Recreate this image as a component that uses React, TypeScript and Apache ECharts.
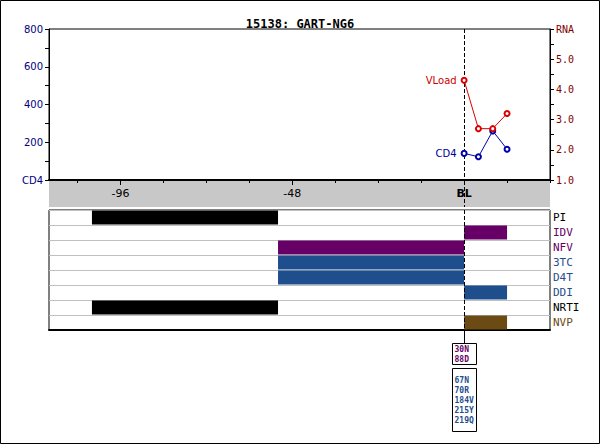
import React, { useEffect, useRef } from "react";
import * as echarts from "echarts";

const chartTitle = "15138: GART-NG6";
const weeks = [0, 4, 8, 12];
const cd4Values = [141, 123, 260, 163];
const vloadValues = [4.3, 2.7, 2.7, 3.2];
const xMin = -116;
const xMax = 24;
const baselineWeek = 0;
const majorTicks = [-96, -48, 0];
const minorTicks = [-108, -96, -84, -72, -60, -48, -36, -24, -12, 0, 12, 24];
const drugRows = ["PI", "IDV", "NFV", "3TC", "D4T", "DDI", "NRTI", "NVP"];
const rowColors = ["#000000", "#660066", "#660066", "#1f4e8c", "#1f4e8c", "#1f4e8c", "#000000", "#6b4a14"];
// [start week, end week, row index]
const drugSpans = [
  [-104, -52, 0],
  [0, 12, 1],
  [-52, 0, 2],
  [-52, 0, 3],
  [-52, 0, 4],
  [0, 12, 5],
  [-104, -52, 6],
  [0, 12, 7],
];
const piMutations = ["30N", "88D"];
const rtMutations = ["67N", "70R", "184V", "215Y", "219Q"];
const piColor = "#660066";
const rtColor = "#1f4e8c";

const MONO = "DejaVu Sans Mono";
const SANS = "DejaVu Sans";

export default function App() {
  const ref = useRef<HTMLDivElement>(null);

  useEffect(() => {
    if (!ref.current) return;
    const chart = echarts.init(ref.current, undefined, { renderer: "svg" });

    const rich: Record<string, any> = {};
    rowColors.forEach((c, i) => {
      rich["c" + i] = { color: c, fontFamily: MONO, fontSize: 11 };
    });

    const dashedSeries = (xi: number, yi: number) => ({
      type: "custom",
      xAxisIndex: xi,
      yAxisIndex: yi,
      data: [[baselineWeek, 0]],
      z: 4,
      renderItem: (params: any, api: any) => {
        const p = api.coord([api.value(0), api.value(1)]);
        const cs = params.coordSys;
        return {
          type: "line",
          shape: { x1: Math.round(p[0]) + 0.5, y1: cs.y, x2: Math.round(p[0]) + 0.5, y2: cs.y + cs.height },
          style: { stroke: "#000", lineWidth: 1, lineDash: [4, 2] },
        };
      },
    });

    chart.setOption({
      animation: false,
      textStyle: { fontFamily: SANS },
      title: {
        text: chartTitle,
        left: "center",
        top: 13,
        textStyle: { fontFamily: MONO, fontWeight: "bold", fontSize: 12, color: "#000" },
      },
      grid: [
        { left: 49, top: 29, width: 501, height: 151, show: true, borderColor: "#000", borderWidth: 1 },
        { left: 49, top: 181, width: 501, height: 26, show: true, backgroundColor: "#c8c8c8", borderWidth: 0 },
        { left: 49, top: 210, width: 501, height: 120, show: true, borderColor: "#000", borderWidth: 1, backgroundColor: "#fff" },
      ],
      xAxis: [
        {
          gridIndex: 0, type: "value", min: xMin, max: xMax, position: "bottom", z: 5,
          axisLine: { show: true, onZero: false, lineStyle: { color: "#000", width: 2 } },
          axisTick: { show: true, customValues: majorTicks, length: 5, lineStyle: { color: "#000" } },
          axisLabel: {
            customValues: majorTicks, margin: 8, color: "#000", fontFamily: SANS, fontSize: 11,
            formatter: (v: number) => (v === 0 ? "{b|BL}" : String(v)),
            rich: { b: { fontWeight: "bold", fontFamily: SANS, fontSize: 11, color: "#000" } },
          },
          splitLine: { show: false },
        },
        {
          gridIndex: 0, type: "value", min: xMin, max: xMax, position: "bottom", z: 5,
          axisLine: { show: false, onZero: false },
          axisTick: { show: true, customValues: minorTicks, length: 3, lineStyle: { color: "#000" } },
          axisLabel: { show: false },
          splitLine: { show: false },
        },
        { gridIndex: 1, type: "value", min: xMin, max: xMax, show: false },
        {
          gridIndex: 2, type: "value", min: xMin, max: xMax, position: "bottom",
          axisLine: { show: true, onZero: false, lineStyle: { color: "#000", width: 2 } },
          axisTick: { show: false }, axisLabel: { show: false }, splitLine: { show: false },
        },
      ],
      yAxis: [
        {
          gridIndex: 0, type: "value", min: 0, max: 800, interval: 200, position: "left",
          axisLine: { show: true, onZero: false, lineStyle: { color: "#000" } },
          axisTick: { show: true, length: 4, lineStyle: { color: "#000" } },
          minorTick: { show: true, splitNumber: 2, length: 4, lineStyle: { color: "#000" } },
          axisLabel: {
            margin: 6, color: "#000080", fontFamily: SANS, fontSize: 10,
            formatter: (v: number) => (v === 0 ? "CD4" : String(v)),
          },
          splitLine: { show: false },
        },
        {
          gridIndex: 0, type: "value", min: 1, max: 6, interval: 1, position: "right",
          axisLine: { show: true, onZero: false, lineStyle: { color: "#000" } },
          axisTick: { show: true, length: 4, lineStyle: { color: "#000" } },
          minorTick: { show: true, splitNumber: 2, length: 4, lineStyle: { color: "#000" } },
          axisLabel: {
            margin: 6, color: "#800000", fontFamily: MONO, fontSize: 10,
            formatter: (v: number) => (v === 6 ? "RNA" : v.toFixed(1)),
          },
          splitLine: { show: false },
        },
        { gridIndex: 1, type: "value", min: 0, max: 1, show: false },
        {
          gridIndex: 2, type: "value", min: 0, max: drugRows.length, interval: 1, inverse: true, position: "right",
          axisLine: { show: false, onZero: false }, axisTick: { show: false },
          axisLabel: {
            customValues: drugRows.map((_, i) => i + 0.5),
            margin: 3, fontFamily: MONO, fontSize: 11,
            formatter: (v: number) => {
              const i = Math.floor(v);
              return `{c${i}|${drugRows[i] ?? ""}}`;
            },
            rich,
          },
          splitLine: { show: true, lineStyle: { color: "#c0c0c0", width: 1 } },
        },
      ],
      series: [
        {
          type: "line", name: "CD4", xAxisIndex: 0, yAxisIndex: 0,
          data: weeks.map((w, i) =>
            i === 0
              ? {
                  value: [w, cd4Values[i]],
                  label: { show: true, position: "left", distance: 4, formatter: "CD4", color: "#000099", fontFamily: SANS, fontSize: 10 },
                }
              : [w, cd4Values[i]]
          ),
          color: "#0000aa", symbol: "emptyCircle", symbolSize: 5, z: 5,
          lineStyle: { width: 1, color: "#0000aa" }, itemStyle: { color: "#0000aa", borderWidth: 1 },
        },
        {
          type: "line", name: "VLoad", xAxisIndex: 0, yAxisIndex: 1,
          data: weeks.map((w, i) =>
            i === 0
              ? {
                  value: [w, vloadValues[i]],
                  label: { show: true, position: "left", distance: 4, formatter: "VLoad", color: "#cc0000", fontFamily: SANS, fontSize: 10 },
                }
              : [w, vloadValues[i]]
          ),
          color: "#dd0000", symbol: "emptyCircle", symbolSize: 5, z: 5,
          lineStyle: { width: 1, color: "#dd0000" }, itemStyle: { color: "#dd0000", borderWidth: 1 },
        },
        {
          type: "custom", xAxisIndex: 3, yAxisIndex: 3,
          data: drugSpans,
          z: 3,
          renderItem: (params: any, api: any) => {
            const row = api.value(2);
            const s = api.coord([api.value(0), row]);
            const e = api.coord([api.value(1), row + 1]);
            return {
              type: "rect",
              shape: { x: s[0], y: s[1] + 0.5, width: e[0] - s[0], height: e[1] - s[1] - 1 },
              style: { fill: rowColors[row] },
            };
          },
        },
        dashedSeries(0, 0),
        dashedSeries(2, 2),
        dashedSeries(3, 3),
      ],
    });

    const px = chart.convertToPixel({ xAxisIndex: 3 }, baselineWeek) as number;
    const gridBottom = 330;
    const boxW = 24;
    const lx = Math.round(px) + 0.5;
    const boxX = Math.round(px) - boxW / 2 + 0.5;
    const g: any[] = [
      {
        type: "rect", silent: true,
        shape: { x: 0.5, y: 0.5, width: 599, height: 443 },
        style: { fill: "none", stroke: "#000", lineWidth: 1 },
      },
      {
        type: "line", shape: { x1: lx, y1: gridBottom, x2: lx, y2: 343 },
        style: { stroke: "#000", lineWidth: 1 },
      },
      {
        type: "rect", shape: { x: boxX, y: 343.5, width: boxW, height: 21 },
        style: { fill: "#fff", stroke: "#000", lineWidth: 1 },
      },
      {
        type: "rect", shape: { x: boxX, y: 368.5, width: boxW, height: 63 },
        style: { fill: "#fff", stroke: "#000", lineWidth: 1 },
      },
    ];
    piMutations.forEach((m, i) => {
      g.push({
        type: "text", x: boxX + 2, y: 349 + i * 10,
        style: { text: m, fill: piColor, font: `bold 8px ${MONO}`, verticalAlign: "middle", align: "left" },
      });
    });
    rtMutations.forEach((m, i) => {
      g.push({
        type: "text", x: boxX + 2, y: 380 + i * 10,
        style: { text: m, fill: rtColor, font: `bold 8px ${MONO}`, verticalAlign: "middle", align: "left" },
      });
    });
    chart.setOption({ graphic: g });

    return () => chart.dispose();
  }, []);

  return (
    <div
      ref={ref}
      style={{ position: "fixed", left: 0, top: 0, width: 600, height: 444, background: "#fff" }}
    />
  );
}
